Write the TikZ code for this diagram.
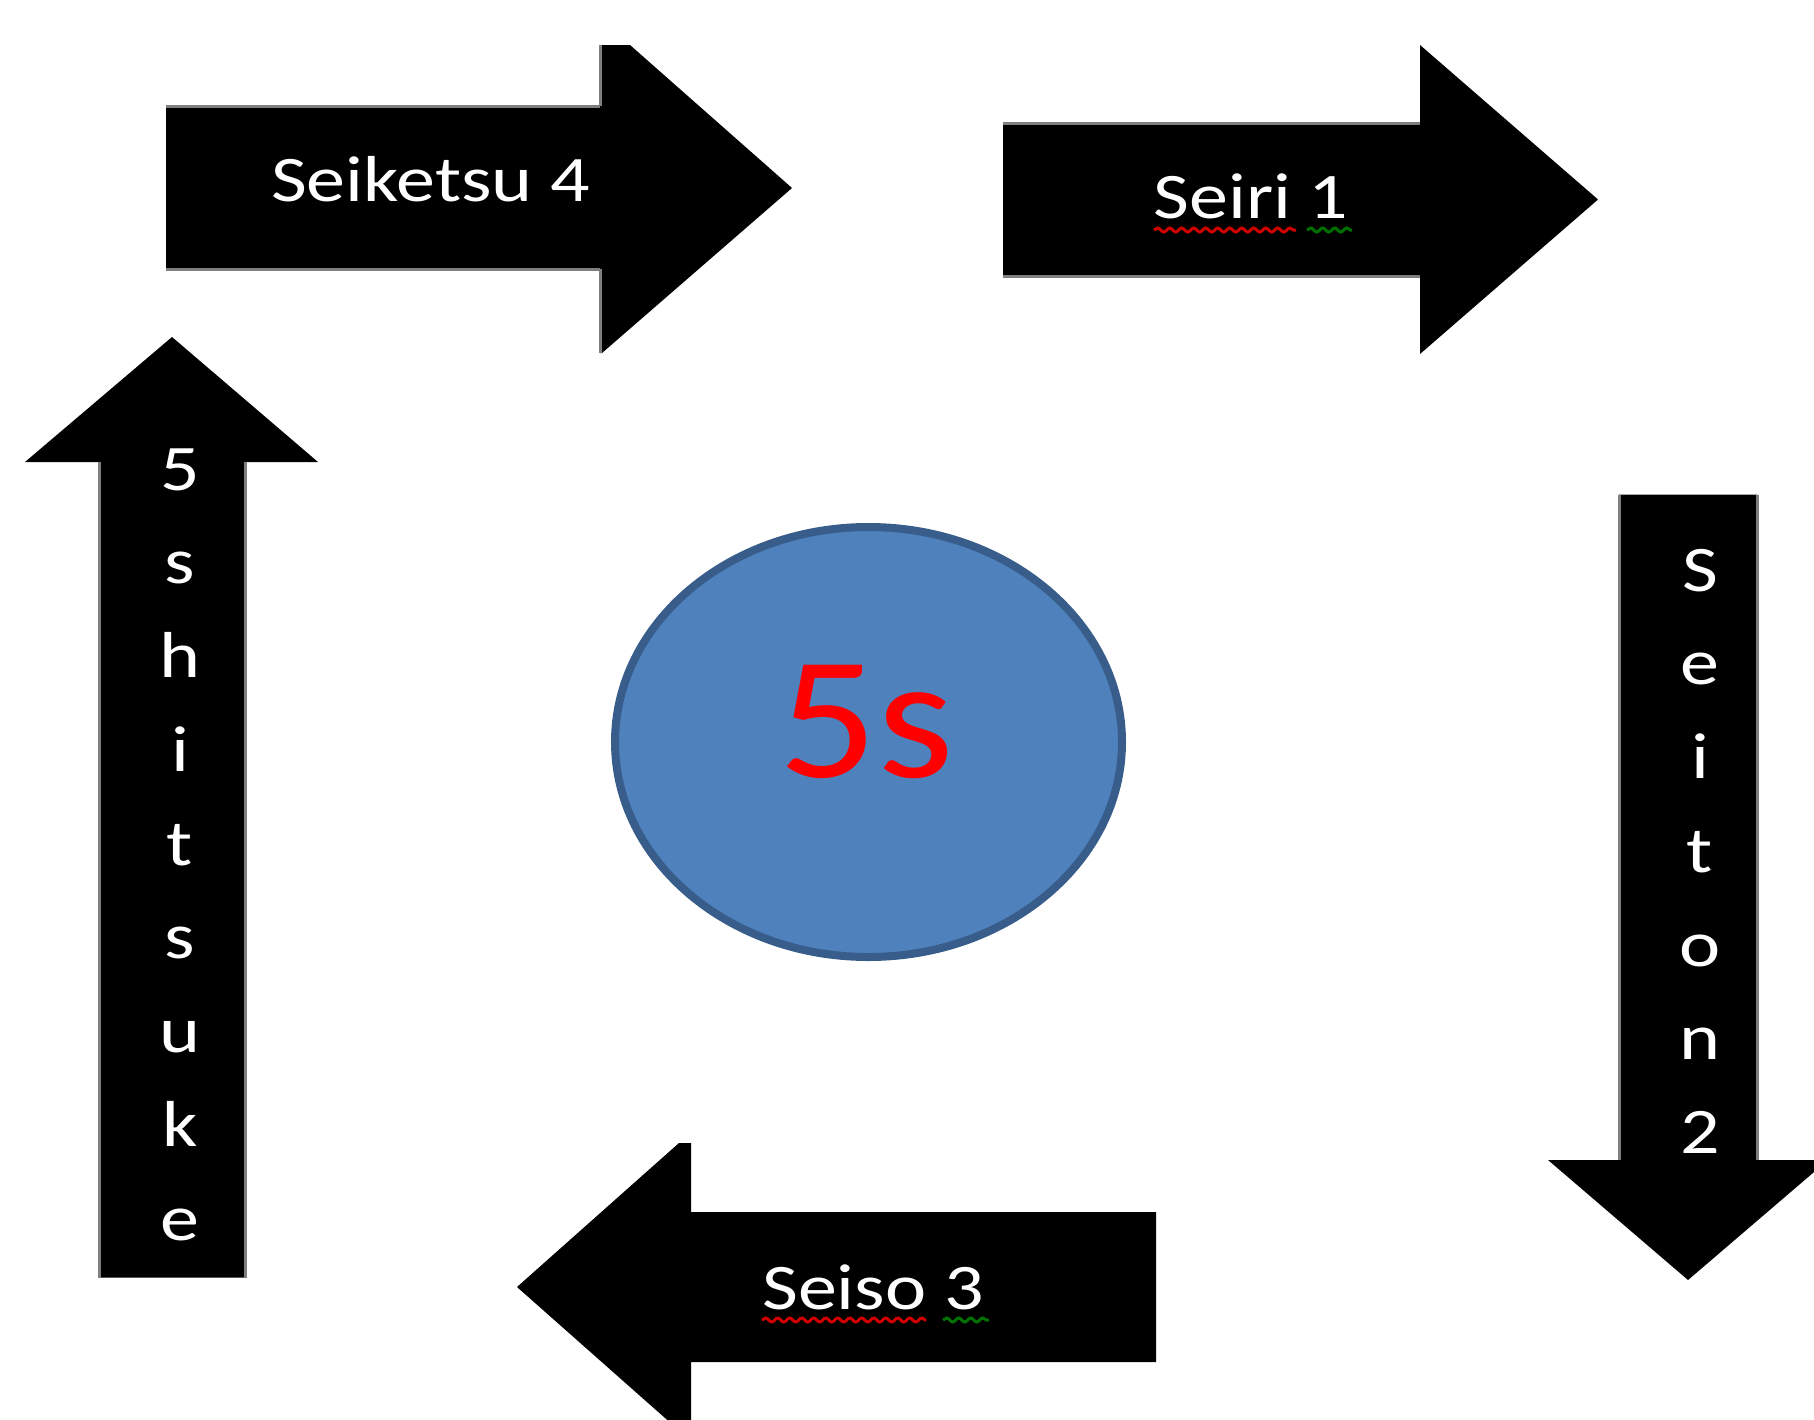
\documentclass[tikz,border=0pt]{standalone}
\usepackage{fontspec}
\usetikzlibrary{shapes.geometric,decorations.pathmorphing}
\newfontfamily\labfont[FakeStretch=1.2]{Carlito}
\newfontfamily\bigfont[FakeStretch=1.12]{Carlito}
\definecolor{ellfill}{HTML}{4F81BD}
\definecolor{elldraw}{HTML}{385D8A}
\definecolor{edgegray}{HTML}{7F7F7F}
\definecolor{squigred}{HTML}{D00000}
\definecolor{squiggreen}{HTML}{007000}
\begin{document}
\begin{tikzpicture}[x=1pt,y=-1pt,
  arrowshape/.style={fill=black},
  shaftedge/.style={draw=edgegray, line width=3pt},
  lbl/.style={text=white, font=\labfont\fontsize{65}{78}\selectfont, inner sep=0pt, outer sep=0pt, anchor=base},
  bigtxt/.style={text=red, font=\bigfont\fontsize{175}{200}\selectfont, inner sep=0pt, anchor=base},
  blob/.style={ellipse, draw=elldraw, fill=ellfill, line width=8pt, inner sep=0pt, outer sep=0pt},
  squig/.style={decorate, decoration={snake, amplitude=2pt, segment length=12pt}, line width=3pt}]
\useasboundingbox (0,0) rectangle (1814,1419);
\clip (0,0) rectangle (1814,1419);
% Seiketsu 4 (right)
\fill[arrowshape] (166,106) -- (600,106) -- (600,45) -- (630,45) -- (792,188) -- (602,353) -- (600,353) -- (600,269) -- (166,269) -- cycle;
\draw[shaftedge] (166,106) -- (600,106) (166,269) -- (600,269) (600,45) -- (600,106) (600,269) -- (600,353);
% Seiri 1 (right)
\fill[arrowshape] (1003,123) -- (1420,123) -- (1420,45) -- (1598,199.5) -- (1420,354) -- (1420,276) -- (1003,276) -- cycle;
\draw[shaftedge] (1003,123) -- (1420,123) (1003,276) -- (1420,276);
% Seiton 2 (down)
\fill[arrowshape] (1619,494.5) -- (1757,494.5) -- (1757,1160) -- (1828,1160) -- (1688,1280) -- (1548,1160) -- (1619,1160) -- cycle;
\draw[shaftedge] (1619,494.5) -- (1619,1160) (1757,494.5) -- (1757,1160);
% Seiso 3 (left)
\fill[arrowshape] (1156,1212) -- (691,1212) -- (691,1143) -- (679,1143) -- (517,1287) -- (691,1441) -- (691,1362) -- (1156,1362) -- cycle;
% Shitsuke 5 (up)
\fill[arrowshape] (99,1277.5) -- (99,462) -- (25,462) -- (172,337) -- (318,462) -- (245,462) -- (245,1277.5) -- cycle;
\draw[shaftedge] (99,462) -- (99,1277.5) (245,462) -- (245,1277.5);
% centre
\node[blob, minimum width=507pt, minimum height=430pt] (circ) at (868.5,742) {};
\node[bigtxt] (fives) at (866,777) {5s};
% labels
\node[lbl] (t4) at (430.5,201) {Seiketsu 4};
\node[lbl] (t1) at (1251,218) {Seiri 1};
\node[lbl] (t3) at (873,1309) {Seiso 3};
\node[lbl] (t5) at (180,490) {\vtop{\baselineskip=93.75pt\lineskiplimit=-200pt\halign{\hfil#\hfil\cr 5\cr s\cr h\cr i\cr t\cr s\cr u\cr k\cr e\cr}}};
\node[lbl] (t2) at (1700,591) {\vtop{\baselineskip=93.75pt\lineskiplimit=-200pt\halign{\hfil#\hfil\cr S\cr e\cr i\cr t\cr o\cr n\cr 2\cr}}};
% spell-check underlines
\draw[squig, squigred] (1154,230) -- (1296,230);
\draw[squig, squiggreen] (1307,230) -- (1352,230);
\draw[squig, squigred] (762,1320) -- (926,1320);
\draw[squig, squiggreen] (943,1320) -- (989,1320);
\end{tikzpicture}
\end{document}
